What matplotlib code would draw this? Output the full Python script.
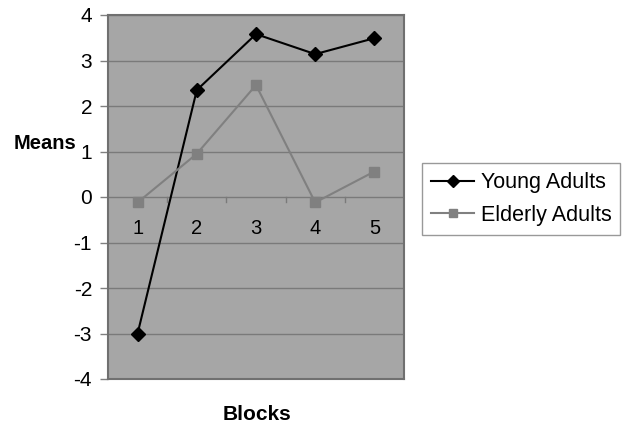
import matplotlib
matplotlib.use("Agg")
import matplotlib.pyplot as plt

blocks = ["1", "2", "3", "4", "5"]
young_adults = [-3.0, 2.35, 3.58, 3.14, 3.49]
elderly_adults = [-0.12, 0.95, 2.46, -0.12, 0.56]
y_ticks = [-4, -3, -2, -1, 0, 1, 2, 3, 4]

plt.rcParams["font.family"] = ["Liberation Sans", "DejaVu Sans"]

fig = plt.figure(figsize=(6.25, 4.24), dpi=100)
ax = fig.add_axes([108 / 625, 1 - 379 / 424, 296 / 625, 364 / 424])
ax.set_facecolor("#a6a6a6")

xs = [i + 0.5 for i in range(len(blocks))]

ax.set_xlim(0, len(blocks))
ax.set_ylim(min(y_ticks), max(y_ticks))
ax.set_yticks(y_ticks)
ax.set_yticklabels([str(t) for t in y_ticks], fontsize=15)
ax.tick_params(axis="y", direction="out", length=6, width=1, color="#808080", pad=5.5)
ax.set_xticks([])

for t in y_ticks:
    ax.axhline(t, color="#7a7a7a", lw=1.0, zorder=1)

# category axis along zero with boundary ticks
for b in range(1, len(blocks)):
    ax.plot([b, b], [0, -0.11], color="#7a7a7a", lw=1.0, zorder=1)
for x, lab in zip(xs, blocks):
    ax.text(x, -0.7, lab, ha="center", va="center", fontsize=14.5)

for s in ax.spines.values():
    s.set_color("#707070")
    s.set_linewidth(1.5)

ax.plot(xs, young_adults, color="black", lw=1.5, marker="D", markersize=7,
        markerfacecolor="black", markeredgecolor="black", label="Young Adults", zorder=3)
ax.plot(xs, elderly_adults, color="#808080", lw=1.5, marker="s", markersize=7.5,
        markerfacecolor="#808080", markeredgecolor="#808080", label="Elderly Adults", zorder=3)

fig.text(45 / 625, 1 - 144 / 424, "Means", ha="center", va="center",
         fontsize=14.5, fontweight="bold")
fig.text(257 / 625, 1 - 414 / 424, "Blocks", ha="center", va="center",
         fontsize=15, fontweight="bold")

leg = fig.legend(loc="upper left", bbox_to_anchor=(422 / 625, 1 - 163 / 424),
                 borderaxespad=0, fontsize=15.5, frameon=True, fancybox=False,
                 handlelength=2.0, handletextpad=0.3, borderpad=0.42,
                 labelspacing=0.55, markerscale=0.85)
leg.get_frame().set_edgecolor("#808080")
leg.get_frame().set_linewidth(1.0)

fig.savefig("out.png", dpi=100)
